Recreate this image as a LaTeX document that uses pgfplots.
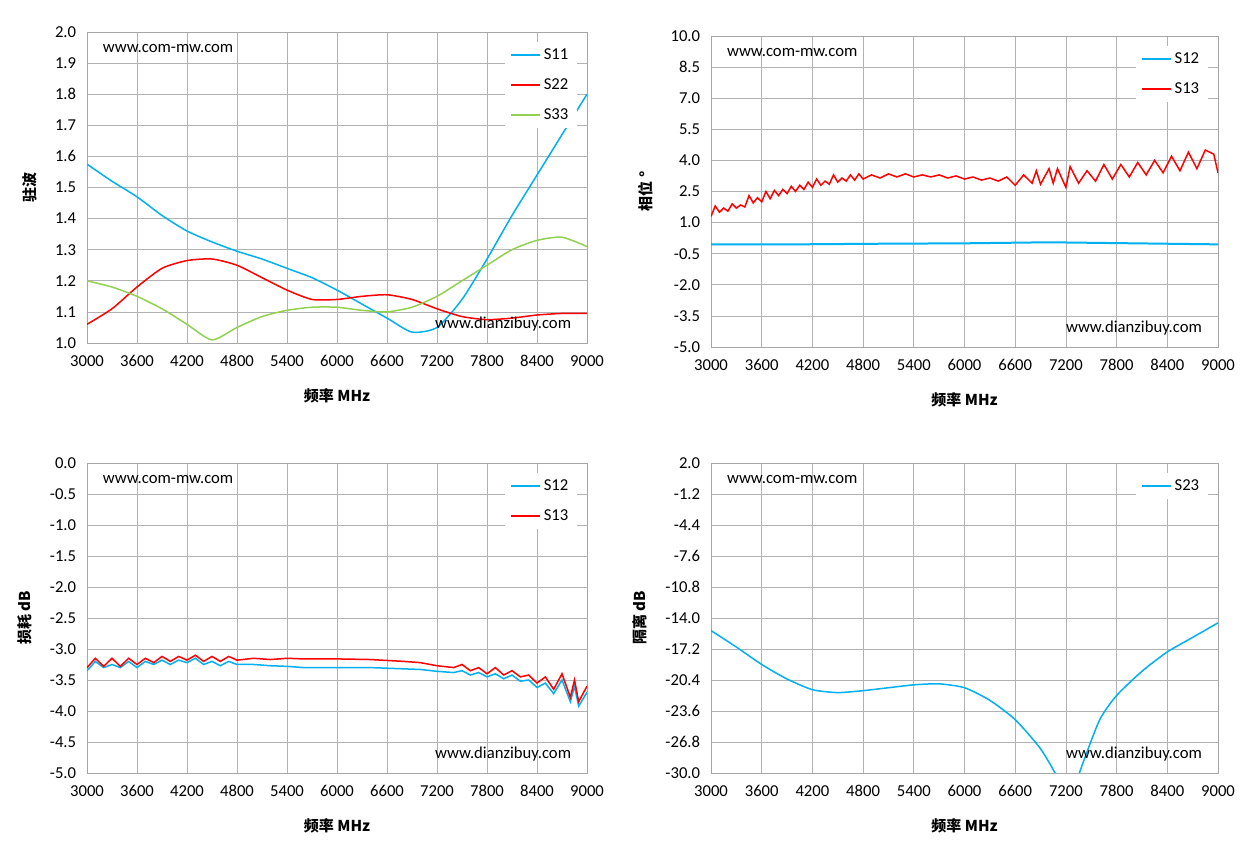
\documentclass[border=0pt]{standalone}
\usepackage{pgfplots}
\pgfplotsset{compat=1.18}
\usepackage{fontspec}
\setmainfont{Carlito}
\newfontfamily\cjk{Noto Sans CJK SC}
\definecolor{cb}{RGB}{0,176,240}
\definecolor{cr}{RGB}{255,0,0}
\definecolor{cg}{RGB}{146,208,80}
\tikzset{L/.style={line width=0.9pt,smooth,tension=0.4}}
\pgfplotsset{every axis/.style={
  scale only axis, xmin=3000,xmax=9000, xtick={3000,3600,...,9000},
  grid=major, major grid style={gray!60}, axis line style={gray!70},
  tick style={draw=none}, /pgf/number format/assume math mode=true,
  ticklabel style={font=\fontsize{10}{11}\selectfont},
  xticklabel style={/pgf/number format/1000 sep={},yshift=-4pt},
  yticklabel style={xshift=-3pt},
  label style={font=\cjk\bfseries\fontsize{9}{10}\selectfont},
  xlabel={频率 MHz}, xlabel style={yshift=-6pt}, ylabel style={yshift=4pt},
  legend style={draw=none,fill=white,font=\fontsize{10}{11}\selectfont,at={(0.98,0.97)},anchor=north east,row sep=6pt},
  legend image post style={line width=0.9pt},
  legend cell align=left, every axis plot/.append style={no marks}
}}
\begin{document}
\begin{tikzpicture}
\path (0,0) rectangle (749.4pt,515.4pt);
% top-left
\begin{axis}[at={(52.2pt,309.6pt)},anchor=south west,width=300pt,height=186.6pt,
 ymin=1,ymax=2,ytick={1,1.1,...,2.01},yticklabel style={/pgf/number format/.cd,fixed,fixed zerofill,precision=1},ylabel={驻波}]
\addplot[cb,L] coordinates {(3000,1.575)(3300,1.52)(3600,1.47)(3900,1.41)(4200,1.36)(4500,1.325)(4800,1.295)(5100,1.27)(5400,1.24)(5700,1.21)(6000,1.17)(6300,1.125)(6600,1.08)(6900,1.035)(7200,1.05)(7500,1.14)(7800,1.27)(8100,1.41)(8400,1.54)(8700,1.67)(9000,1.8)};
\addplot[cr,L] coordinates {(3000,1.06)(3300,1.11)(3600,1.18)(3900,1.24)(4200,1.265)(4500,1.27)(4800,1.25)(5100,1.21)(5400,1.17)(5700,1.14)(6000,1.14)(6300,1.15)(6600,1.155)(6900,1.14)(7200,1.11)(7500,1.085)(7800,1.075)(8100,1.08)(8400,1.09)(8700,1.095)(9000,1.095)};
\addplot[cg,L] coordinates {(3000,1.2)(3300,1.18)(3600,1.15)(3900,1.11)(4200,1.06)(4500,1.01)(4800,1.05)(5100,1.085)(5400,1.105)(5700,1.115)(6000,1.115)(6300,1.105)(6600,1.1)(6900,1.115)(7200,1.15)(7500,1.2)(7800,1.25)(8100,1.3)(8400,1.33)(8700,1.34)(9000,1.31)};
\legend{S11,S22,S33}
\node[anchor=north west,font=\fontsize{10}{11}\selectfont] at (rel axis cs:0.02,0.98) {www.com-mw.com};
\node[anchor=south east,font=\fontsize{10}{11}\selectfont] at (rel axis cs:0.98,0.02) {www.dianzibuy.com};
\end{axis}
% top-right
\begin{axis}[at={(426.6pt,307.2pt)},anchor=south west,width=304.2pt,height=186.6pt,
 ymin=-5,ymax=10,ytick={-5,-3.5,...,10.01},yticklabel style={/pgf/number format/.cd,fixed,fixed zerofill,precision=1},ylabel={相位 °}]
\addplot[cb,line width=1.2pt] coordinates {(3000,-0.05)(4000,-0.05)(5000,-0.02)(6000,0.0)(7000,0.05)(8000,0.0)(9000,-0.05)};
\addplot[cr,line width=0.9pt] coordinates {(3000,1.3)(3050,1.8)(3100,1.5)(3150,1.7)(3200,1.55)(3250,1.9)(3300,1.7)(3350,1.85)(3400,1.75)(3450,2.3)(3500,1.95)(3550,2.2)(3600,2.0)(3650,2.5)(3700,2.15)(3750,2.55)(3800,2.3)(3850,2.6)(3900,2.4)(3950,2.75)(4000,2.5)(4050,2.8)(4100,2.6)(4150,2.95)(4200,2.7)(4250,3.1)(4300,2.8)(4350,3.0)(4400,2.85)(4450,3.3)(4500,2.95)(4550,3.15)(4600,3.0)(4650,3.3)(4700,3.05)(4750,3.35)(4800,3.1)(4900,3.3)(5000,3.15)(5100,3.35)(5200,3.2)(5300,3.35)(5400,3.2)(5500,3.3)(5600,3.2)(5700,3.3)(5800,3.15)(5900,3.25)(6000,3.1)(6100,3.2)(6200,3.05)(6300,3.15)(6400,3.0)(6500,3.2)(6600,2.8)(6700,3.3)(6800,2.9)(6850,3.5)(6900,2.85)(7000,3.6)(7050,2.9)(7100,3.6)(7200,2.7)(7250,3.7)(7350,2.9)(7450,3.5)(7550,3.0)(7650,3.8)(7750,3.1)(7850,3.8)(7950,3.2)(8050,3.9)(8150,3.3)(8250,4.0)(8350,3.4)(8450,4.2)(8550,3.5)(8650,4.4)(8750,3.6)(8850,4.5)(8950,4.3)(9000,3.4)};
\legend{S12,S13}
\node[anchor=north west,font=\fontsize{10}{11}\selectfont] at (rel axis cs:0.02,0.98) {www.com-mw.com};
\node[anchor=south east,font=\fontsize{10}{11}\selectfont] at (rel axis cs:0.98,0.02) {www.dianzibuy.com};
\end{axis}
% bottom-left
\begin{axis}[at={(52.2pt,51.6pt)},anchor=south west,width=300pt,height=186pt,
 ymin=-5,ymax=0,ytick={-5,-4.5,...,0.01},yticklabel style={/pgf/number format/.cd,fixed,fixed zerofill,precision=1},ylabel={损耗 dB}]
\addplot[cb,line width=0.9pt] coordinates {(3000,-3.35)(3100,-3.2)(3200,-3.3)(3300,-3.25)(3400,-3.3)(3500,-3.2)(3600,-3.3)(3700,-3.2)(3800,-3.25)(3900,-3.18)(4000,-3.25)(4100,-3.18)(4200,-3.22)(4300,-3.15)(4400,-3.25)(4500,-3.2)(4600,-3.27)(4700,-3.2)(4800,-3.25)(5000,-3.25)(5200,-3.27)(5400,-3.28)(5600,-3.3)(5800,-3.3)(6000,-3.3)(6400,-3.3)(6800,-3.32)(7000,-3.33)(7200,-3.36)(7400,-3.38)(7500,-3.35)(7600,-3.42)(7700,-3.38)(7800,-3.45)(7900,-3.4)(8000,-3.48)(8100,-3.42)(8200,-3.52)(8300,-3.5)(8400,-3.62)(8500,-3.55)(8600,-3.72)(8700,-3.5)(8800,-3.85)(8850,-3.6)(8900,-3.92)(9000,-3.7)};
\addplot[cr,line width=0.9pt] coordinates {(3000,-3.3)(3100,-3.15)(3200,-3.28)(3300,-3.15)(3400,-3.28)(3500,-3.15)(3600,-3.25)(3700,-3.15)(3800,-3.22)(3900,-3.12)(4000,-3.2)(4100,-3.12)(4200,-3.18)(4300,-3.1)(4400,-3.2)(4500,-3.12)(4600,-3.2)(4700,-3.12)(4800,-3.18)(5000,-3.15)(5200,-3.17)(5400,-3.15)(5600,-3.16)(6000,-3.16)(6400,-3.17)(6800,-3.2)(7000,-3.22)(7200,-3.27)(7400,-3.3)(7500,-3.25)(7600,-3.35)(7700,-3.3)(7800,-3.4)(7900,-3.3)(8000,-3.42)(8100,-3.35)(8200,-3.45)(8300,-3.42)(8400,-3.55)(8500,-3.45)(8600,-3.65)(8700,-3.4)(8800,-3.78)(8850,-3.5)(8900,-3.85)(9000,-3.6)};
\legend{S12,S13}
\node[anchor=north west,font=\fontsize{10}{11}\selectfont] at (rel axis cs:0.02,0.98) {www.com-mw.com};
\node[anchor=south east,font=\fontsize{10}{11}\selectfont] at (rel axis cs:0.98,0.02) {www.dianzibuy.com};
\end{axis}
% bottom-right
\begin{axis}[at={(426.6pt,51.6pt)},anchor=south west,width=304.2pt,height=186pt,
 ymin=-30,ymax=2,ytick={-30,-26.8,...,2.01},yticklabel style={/pgf/number format/.cd,fixed,fixed zerofill,precision=1},ylabel={隔离 dB},clip=true]
\addplot[cb,L] coordinates {(3000,-15.3)(3300,-17)(3600,-18.8)(3900,-20.3)(4200,-21.4)(4500,-21.7)(4800,-21.5)(5100,-21.2)(5400,-20.9)(5700,-20.8)(6000,-21.2)(6300,-22.5)(6600,-24.5)(6900,-27.5)(7100,-30.5)(7200,-33)(7300,-31.5)(7400,-29)(7600,-24.5)(7800,-22)(8100,-19.5)(8400,-17.5)(8700,-16)(9000,-14.5)};
\legend{S23}
\node[anchor=north west,font=\fontsize{10}{11}\selectfont] at (rel axis cs:0.02,0.98) {www.com-mw.com};
\node[anchor=south east,font=\fontsize{10}{11}\selectfont] at (rel axis cs:0.98,0.02) {www.dianzibuy.com};
\end{axis}
\end{tikzpicture}
\end{document}
